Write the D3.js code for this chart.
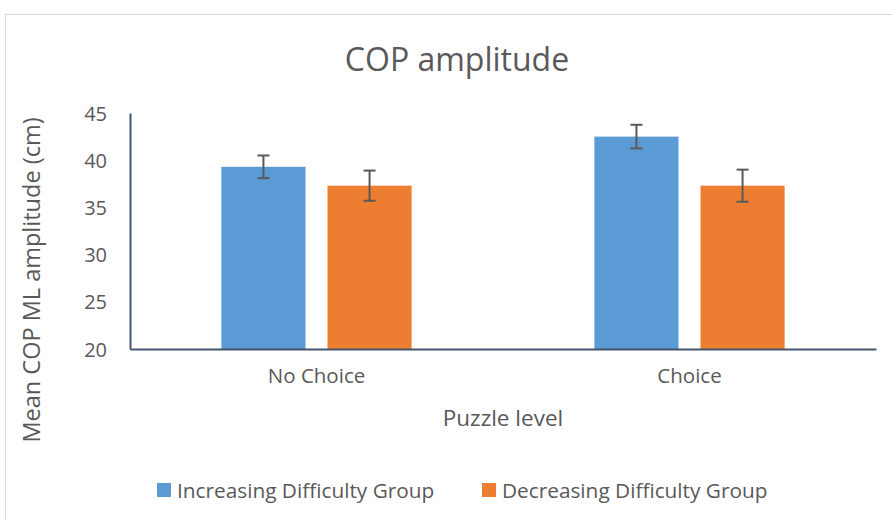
<!DOCTYPE html>
<html>
<head>
<meta charset="utf-8">
<script src="https://cdn.jsdelivr.net/npm/d3@7"></script>
<style>
  body { margin: 0; background: #fff; }
  text { font-family: "Open Sans", sans-serif; fill: #595959; }
</style>
</head>
<body>
<svg id="chart" width="892" height="520"></svg>
<script>
// chart values
var categories = ["No Choice", "Choice"];
var seriesNames = ["Increasing Difficulty Group", "Decreasing Difficulty Group"];
var increasingMeans = [39.3, 42.5];
var decreasingMeans = [37.3, 37.3];
var increasingErr = [1.2, 1.25];
var decreasingErr = [1.6, 1.7];
var yTicks = [20, 25, 30, 35, 40, 45];
var colors = ["#5b9bd5", "#ed7d31"];

var svg = d3.select("#chart");

// chart frame
svg.append("rect")
    .attr("x", 5.5).attr("y", 14.5)
    .attr("width", 900).attr("height", 520)
    .attr("fill", "none")
    .attr("stroke", "#d9d9d9");

var margin = {left: 130, right: 16, top: 113, bottom: 171};
var plotW = 892 - margin.left - margin.right;
var plotH = 520 - margin.top - margin.bottom;

var g = svg.append("g").attr("transform", "translate(" + margin.left + "," + margin.top + ")");

var x0 = d3.scaleBand().domain(categories).range([0, plotW])
    .paddingInner(0.49).paddingOuter(0.245);
var x1 = d3.scaleBand().domain([0, 1]).range([0, x0.bandwidth()])
    .paddingInner(0.2075).paddingOuter(0);
var y = d3.scaleLinear().domain([20, 45]).range([plotH, 0]);

var rows = [];
for (var i = 0; i < categories.length; i++) {
  rows.push({cat: categories[i], s: 0, v: increasingMeans[i], e: increasingErr[i]});
  rows.push({cat: categories[i], s: 1, v: decreasingMeans[i], e: decreasingErr[i]});
}

// bars
g.selectAll("rect.bar").data(rows).enter().append("rect")
    .attr("class", "bar")
    .attr("x", function(d) { return x0(d.cat) + x1(d.s); })
    .attr("y", function(d) { return y(d.v); })
    .attr("width", x1.bandwidth())
    .attr("height", function(d) { return plotH - y(d.v); })
    .attr("fill", function(d) { return colors[d.s]; });

// error bars
function cx(d) { return x0(d.cat) + x1(d.s) + x1.bandwidth() / 2; }
var eb = g.selectAll("g.err").data(rows).enter().append("g")
    .attr("class", "err")
    .attr("stroke", "#595959")
    .attr("stroke-width", 2);
eb.append("line")
    .attr("x1", cx).attr("x2", cx)
    .attr("y1", function(d) { return y(d.v + d.e); })
    .attr("y2", function(d) { return y(d.v - d.e); });
eb.append("line")
    .attr("x1", function(d) { return cx(d) - 6; })
    .attr("x2", function(d) { return cx(d) + 6; })
    .attr("y1", function(d) { return y(d.v + d.e); })
    .attr("y2", function(d) { return y(d.v + d.e); });
eb.append("line")
    .attr("x1", function(d) { return cx(d) - 6; })
    .attr("x2", function(d) { return cx(d) + 6; })
    .attr("y1", function(d) { return y(d.v - d.e); })
    .attr("y2", function(d) { return y(d.v - d.e); });

// y axis
var yAxis = g.append("g").call(d3.axisLeft(y).tickValues(yTicks).tickSize(0).tickPadding(23));
yAxis.select(".domain").attr("stroke", "#44546a").attr("stroke-width", 2);
yAxis.selectAll("text").style("font-size", "20px").attr("dy", "0.35em");

// x axis
var xAxis = g.append("g").attr("transform", "translate(0," + plotH + ")")
    .call(d3.axisBottom(x0).tickSize(0).tickPadding(19));
xAxis.select(".domain").attr("stroke", "#44546a").attr("stroke-width", 2);
xAxis.selectAll("text").style("font-size", "20.5px");

// titles
svg.append("text")
    .attr("x", 457).attr("y", 71)
    .attr("text-anchor", "middle")
    .style("font-size", "32px")
    .text("COP amplitude");

svg.append("text")
    .attr("x", 503).attr("y", 426)
    .attr("text-anchor", "middle")
    .style("font-size", "22.5px")
    .text("Puzzle level");

svg.append("text")
    .attr("transform", "translate(40,280) rotate(-90)")
    .attr("text-anchor", "middle")
    .style("font-size", "23.5px")
    .text("Mean COP ML amplitude (cm)");

// legend
var legendX = [157, 482];
var leg = svg.selectAll("g.legend").data(seriesNames).enter().append("g")
    .attr("class", "legend")
    .attr("transform", function(d, i) { return "translate(" + legendX[i] + ",483)"; });
leg.append("rect")
    .attr("width", 14).attr("height", 14)
    .attr("fill", function(d, i) { return colors[i]; });
leg.append("text")
    .attr("x", 20).attr("y", 14.5)
    .style("font-size", "20.8px")
    .text(function(d) { return d; });
</script>
</body>
</html>
